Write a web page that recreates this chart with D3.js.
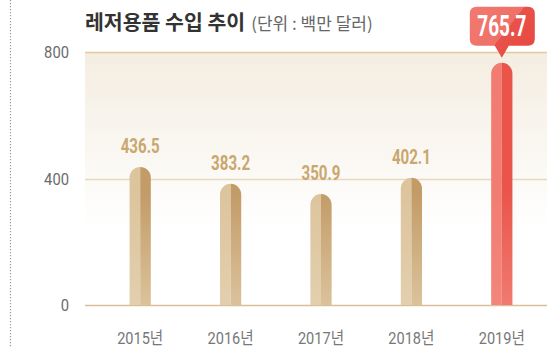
<!DOCTYPE html>
<html>
<head>
<meta charset="utf-8">
<script src="https://cdn.jsdelivr.net/npm/d3@7"></script>
<style>
  html, body { margin: 0; padding: 0; background: #fff; }
  svg { display: block; }
</style>
</head>
<body>
<svg id="chart" width="547" height="348"></svg>
<script>
// Leisure goods imports, million USD
const years = ["2015년", "2016년", "2017년", "2018년", "2019년"];
const imports = [436.5, 383.2, 350.9, 402.1, 765.7];
const yTicks = [0, 400, 800];
const highlightYear = "2019년";

const W = 547, H = 348;
const svg = d3.select("#chart");
const defs = svg.append("defs");

const plotLeft = 85, plotRight = 547, baseY = 305, topY = 52;

const x = d3.scaleBand().domain(years).range([95, 547]).paddingInner(0.765).paddingOuter(0.3825);
const y = d3.scaleLinear().domain([0, 800]).range([baseY, topY]);

const numFont = "Roboto, 'Noto Sans CJK KR', sans-serif";

// squeeze a label to a condensed width
function narrow(sel, perChar) {
  sel.each(function () {
    const t = d3.select(this);
    const txt = t.text();
    let w = 0;
    for (const ch of txt) w += perChar[ch === "." ? "." : (/[0-9]/.test(ch) ? "d" : "k")];
    t.attr("textLength", w).attr("lengthAdjust", "spacingAndGlyphs");
  });
}

// dotted margin rule
svg.append("line")
  .attr("x1", 10.5).attr("x2", 10.5).attr("y1", 0).attr("y2", H)
  .attr("stroke", "#9a9a9a").attr("stroke-width", 1.2)
  .attr("stroke-dasharray", "1.2,1.8");

// plot background wash
const bg = defs.append("linearGradient").attr("id", "bgGrad")
  .attr("x1", 0).attr("y1", 0).attr("x2", 0).attr("y2", 1);
bg.append("stop").attr("offset", "0%").attr("stop-color", "#f4ede1");
bg.append("stop").attr("offset", "70%").attr("stop-color", "#ffffff");
bg.append("stop").attr("offset", "100%").attr("stop-color", "#ffffff");
svg.append("rect")
  .attr("x", plotLeft).attr("y", y(800))
  .attr("width", plotRight - plotLeft).attr("height", y(0) - y(800))
  .attr("fill", "url(#bgGrad)");

// gridlines
const gridColor = { 800: "#e6c99a", 400: "#e8d8bd", 0: "#d9bf98" };
svg.append("g").selectAll("line").data(yTicks).join("line")
  .attr("x1", plotLeft).attr("x2", plotRight)
  .attr("y1", d => Math.round(y(d)) + 0.5).attr("y2", d => Math.round(y(d)) + 0.5)
  .attr("stroke", d => gridColor[d]).attr("stroke-width", 1.5);

// y tick labels
svg.append("g").selectAll("text").data(yTicks).join("text")
  .attr("x", 69).attr("y", d => y(d))
  .attr("dy", "0.36em")
  .attr("text-anchor", "end")
  .attr("font-family", numFont).attr("font-size", 17)
  .attr("fill", "#6b6b6b")
  .text(d => d)
  .call(narrow, { d: 8.3, ".": 4, k: 14 });

// bar gradients: left/right halves, fading toward the base
function halfGrad(id, top, bottom) {
  const g = defs.append("linearGradient").attr("id", id)
    .attr("gradientUnits", "userSpaceOnUse")
    .attr("x1", 0).attr("y1", y(800)).attr("x2", 0).attr("y2", y(0));
  g.append("stop").attr("offset", "0%").attr("stop-color", top);
  g.append("stop").attr("offset", "55%").attr("stop-color", top);
  g.append("stop").attr("offset", "100%").attr("stop-color", bottom);
}
halfGrad("goldL", "#dcc49d", "#e3cfae");
halfGrad("goldR", "#c29b66", "#dbc29b");
halfGrad("redL", "#f27c72", "#f3857b");
halfGrad("redR", "#e9554b", "#f07a70");

const bw = x.bandwidth();
const r = bw / 2;

function barPath(d, i, half) {
  const x0 = x(years[i]);
  const cx = x0 + r;
  const yTop = y(d);
  const y0 = y(0);
  if (half === "L") {
    return `M${cx},${y0} L${x0},${y0} L${x0},${yTop + r} A${r},${r} 0 0 1 ${cx},${yTop} Z`;
  }
  return `M${cx},${y0} L${cx},${yTop} A${r},${r} 0 0 1 ${x0 + bw},${yTop + r} L${x0 + bw},${y0} Z`;
}

const bars = svg.append("g");
imports.forEach((v, i) => {
  const hot = years[i] === highlightYear;
  bars.append("path").attr("d", barPath(v, i, "L"))
    .attr("fill", hot ? "url(#redL)" : "url(#goldL)");
  bars.append("path").attr("d", barPath(v, i, "R"))
    .attr("fill", hot ? "url(#redR)" : "url(#goldR)");
});

// value labels
svg.append("g").selectAll("text")
  .data(imports.map((v, i) => ({ v, i })).filter(d => years[d.i] !== highlightYear))
  .join("text")
  .attr("x", d => x(years[d.i]) + r)
  .attr("y", d => y(d.v) - 14)
  .attr("text-anchor", "middle")
  .attr("font-family", numFont).attr("font-size", 21).attr("font-weight", "bold")
  .attr("fill", "#c9a76d")
  .text(d => d3.format(".1f")(d.v))
  .call(narrow, { d: 8.6, ".": 4.6, k: 10 });

// callout for the highlighted year
const hi = years.indexOf(highlightYear);
const hv = imports[hi];
const hcx = x(highlightYear) + r;
const tipY = y(hv) - 5;
const boxW = 65, boxH = 39, boxBottom = tipY - 12, boxTop = boxBottom - boxH, rad = 7;
const bx = hcx - boxW / 2 + 0.5;

const cg = defs.append("linearGradient").attr("id", "calloutGrad")
  .attr("gradientUnits", "userSpaceOnUse")
  .attr("x1", bx).attr("y1", boxTop).attr("x2", bx + boxW).attr("y2", boxBottom + 12);
cg.append("stop").attr("offset", "0%").attr("stop-color", "#f17a70");
cg.append("stop").attr("offset", "52%").attr("stop-color", "#ef7067");
cg.append("stop").attr("offset", "52%").attr("stop-color", "#e8524a");
cg.append("stop").attr("offset", "100%").attr("stop-color", "#e6463f");

const calloutPath = [
  `M${bx + rad},${boxTop}`,
  `H${bx + boxW - rad}`,
  `Q${bx + boxW},${boxTop} ${bx + boxW},${boxTop + rad}`,
  `V${boxBottom - rad}`,
  `Q${bx + boxW},${boxBottom} ${bx + boxW - rad},${boxBottom}`,
  `H${hcx + 7}`,
  `L${hcx},${tipY}`,
  `L${hcx - 7},${boxBottom}`,
  `H${bx + rad}`,
  `Q${bx},${boxBottom} ${bx},${boxBottom - rad}`,
  `V${boxTop + rad}`,
  `Q${bx},${boxTop} ${bx + rad},${boxTop}`,
  "Z"
].join(" ");
svg.append("path").attr("d", calloutPath).attr("fill", "url(#calloutGrad)");
svg.append("text")
  .attr("x", hcx).attr("y", boxTop + 29.5)
  .attr("text-anchor", "middle")
  .attr("font-family", numFont).attr("font-size", 29).attr("font-weight", "bold")
  .attr("fill", "#ffffff")
  .text(d3.format(".1f")(hv))
  .call(narrow, { d: 10.8, ".": 5.8, k: 12 });

// x axis labels
svg.append("g").selectAll("text").data(years).join("text")
  .attr("x", d => x(d) + r)
  .attr("y", 344)
  .attr("text-anchor", "middle")
  .attr("font-family", numFont).attr("font-size", 16.5)
  .attr("fill", "#777777")
  .text(d => d)
  .call(narrow, { d: 7.9, ".": 4, k: 14.5 });

// title
const title = svg.append("text")
  .attr("x", 85).attr("y", 30)
  .attr("font-family", "'Noto Sans CJK KR', sans-serif");
title.append("tspan").attr("font-size", 20.5).attr("font-weight", "bold").attr("fill", "#333333")
  .text("레저용품 수입 추이");
title.append("tspan").attr("font-size", 17).attr("fill", "#666666").attr("dx", 6)
  .text("(단위 : 백만 달러)");
</script>
</body>
</html>
